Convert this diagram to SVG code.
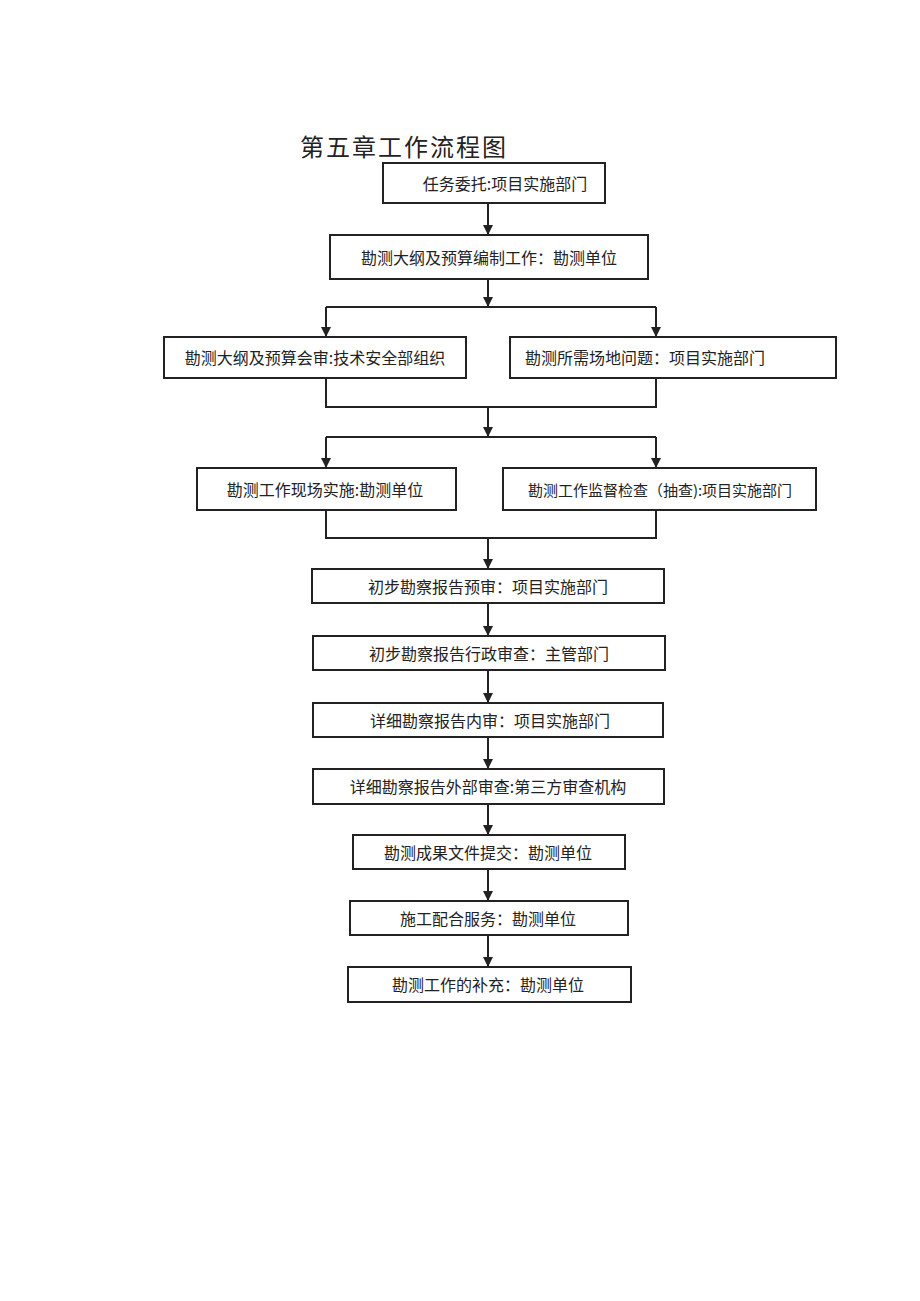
<svg xmlns="http://www.w3.org/2000/svg" width="920" height="1301" viewBox="0 0 920 1301">
<style>
.b{fill:#fff;stroke:#222;stroke-width:2}
.t{font-family:"Noto Sans CJK SC","Liberation Sans",sans-serif;font-size:16px;fill:#222;text-anchor:middle;dominant-baseline:central}
.c{stroke:#222;stroke-width:2;fill:none}
</style>
<defs><marker id="a" viewBox="0 0 10 10" refX="10" refY="5" markerWidth="5" markerHeight="5" orient="auto"><path d="M0,0L10,5L0,10z" fill="#222"/></marker></defs>
<rect width="920" height="1301" fill="#fff"/>
<text x="300" y="145" style="font-family:'Noto Sans CJK SC',sans-serif;font-size:24px;fill:#222;dominant-baseline:central;letter-spacing:2px">第五章工作流程图</text>
<g id="connectors" class="c">
<path d="M488,203V235" marker-end="url(#a)"/>
<path d="M488,279V307" marker-end="url(#a)"/>
<path d="M326,307H656"/>
<path d="M326,307V337" marker-end="url(#a)"/>
<path d="M656,307V337" marker-end="url(#a)"/>
<path d="M326,378V407H656V378"/>
<path d="M488,407V437" marker-end="url(#a)"/>
<path d="M326,437H656"/>
<path d="M326,437V468" marker-end="url(#a)"/>
<path d="M656,437V468" marker-end="url(#a)"/>
<path d="M326,510V538H656V510"/>
<path d="M488,538V569" marker-end="url(#a)"/>
<path d="M488,603V636" marker-end="url(#a)"/>
<path d="M488,670V703" marker-end="url(#a)"/>
<path d="M488,737V769" marker-end="url(#a)"/>
<path d="M488,804V835" marker-end="url(#a)"/>
<path d="M488,869V901" marker-end="url(#a)"/>
<path d="M488,935V967" marker-end="url(#a)"/>
</g>
<g id="n1"><rect class="b" x="383" y="163" width="222" height="40"/><text class="t" x="505" y="183">任务委托:项目实施部门</text></g>
<g id="n2"><rect class="b" x="330" y="235" width="318" height="44"/><text class="t" x="489" y="257">勘测大纲及预算编制工作：勘测单位</text></g>
<g id="n3"><rect class="b" x="164" y="337" width="302" height="41"/><text class="t" x="315" y="357">勘测大纲及预算会审:技术安全部组织</text></g>
<g id="n4"><rect class="b" x="510" y="337" width="326" height="41"/><text class="t" x="645" y="357">勘测所需场地问题：项目实施部门</text></g>
<g id="n5"><rect class="b" x="197" y="468" width="259" height="42"/><text class="t" x="325" y="489">勘测工作现场实施:勘测单位</text></g>
<g id="n6"><rect class="b" x="503" y="468" width="313" height="42"/><text class="t" x="660" y="489" style="font-size:15px">勘测工作监督检查（抽查):项目实施部门</text></g>
<g id="n7"><rect class="b" x="312" y="569" width="352" height="34"/><text class="t" x="488" y="586">初步勘察报告预审：项目实施部门</text></g>
<g id="n8"><rect class="b" x="313" y="636" width="352" height="34"/><text class="t" x="489" y="653">初步勘察报告行政审查：主管部门</text></g>
<g id="n9"><rect class="b" x="313" y="703" width="350" height="34"/><text class="t" x="490" y="720">详细勘察报告内审：项目实施部门</text></g>
<g id="n10"><rect class="b" x="313" y="769" width="351" height="35"/><text class="t" x="488" y="786">详细勘察报告外部审查:第三方审查机构</text></g>
<g id="n11"><rect class="b" x="353" y="835" width="272" height="34"/><text class="t" x="488" y="852">勘测成果文件提交：勘测单位</text></g>
<g id="n12"><rect class="b" x="350" y="901" width="278" height="34"/><text class="t" x="488" y="918">施工配合服务：勘测单位</text></g>
<g id="n13"><rect class="b" x="348" y="967" width="283" height="35"/><text class="t" x="488" y="984">勘测工作的补充：勘测单位</text></g>
</svg>
